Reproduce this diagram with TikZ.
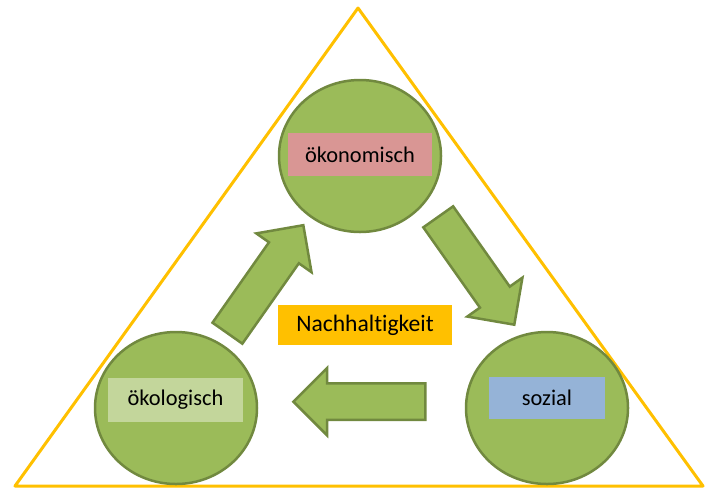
\documentclass[tikz,border=0pt]{standalone}
\usepackage{fontspec}
\setmainfont{Carlito}[Ligatures=NoCommon]
\usetikzlibrary{shapes.geometric, shapes.arrows}
\definecolor{nhgreen}{HTML}{9BBB59}
\definecolor{nhdark} {HTML}{71893F}
\definecolor{nhgold} {HTML}{FFC000}
\definecolor{nhrose} {HTML}{D99694}
\definecolor{nhlime} {HTML}{C3D69B}
\definecolor{nhsky}  {HTML}{95B3D7}
\tikzset{
  PIL/.style={ellipse, draw=nhdark, fill=nhgreen, line width=1.25pt,
    minimum width=81pt, minimum height=76pt, inner sep=0pt},
  TAG/.style args={#1/#2/#3}{rectangle, fill=#1, text=black,
    font=\fontsize{11.2}{13}\selectfont, inner sep=0pt,
    minimum width=#2, minimum height=#3},
  FLOW/.style={single arrow, draw=nhdark, fill=nhgreen, line width=1.25pt,
    minimum height=66pt, inner xsep=0pt, inner ysep=8.5pt,
    single arrow head extend=7.75pt, anchor=tail, rotate=#1},
  TRI/.style={draw=nhgold, line width=1.5pt, line join=round},
}
\begin{document}
\begin{tikzpicture}[x=0.5pt, y=-0.5pt]
  \useasboundingbox (0,0) rectangle (705,488);
  \coordinate (apex) at (358,8);
  \coordinate (bl)   at (15,486);
  \coordinate (br)   at (703,486);
  \draw[TRI] (bl) -- (apex) -- (br) -- cycle;
  % three pillars
  \node[PIL] (oekon) at (360,156) {};
  \node[PIL] (oekol) at (176,408) {};
  \node[PIL] (soz)   at (547,408) {};
  \foreach \nm/\x/\y/\col/\w/\h/\txt in {
      toekon/360/154.5/nhrose/72pt/21.5pt/ökonomisch,
      toekol/175.5/400/nhlime/67.5pt/22pt/ökologisch,
      tsoz/547/398/nhsky/58pt/21pt/sozial}{
    \node[TAG=\col/\w/\h] (\nm) at (\x,\y) {\txt};}
  % cycle arrows
  \node[FLOW=54.9]  (fup)   at (226.7,334.2) {};
  \node[FLOW=-54.8] (fdown) at (437.5,215.8) {};
  \node[FLOW=180]   (fback) at (426.7,401.7) {};
  \node[TAG=nhgold/87pt/20pt, font=\fontsize{11.8}{14}\selectfont] (nh) at (365,325) {Nachhaltigkeit};
\end{tikzpicture}
\end{document}
